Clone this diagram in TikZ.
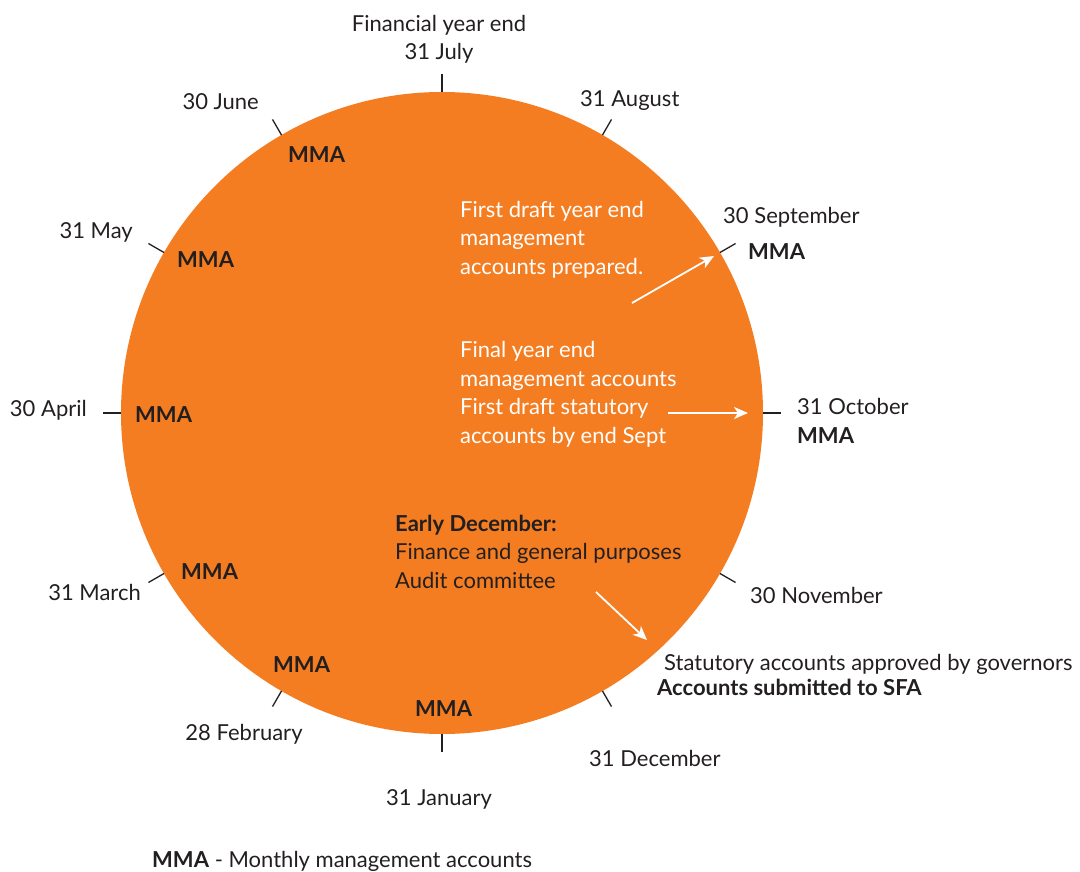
\documentclass[tikz,border=0pt]{standalone}
\usepackage{fontspec}
\setmainfont{Lato}
\usetikzlibrary{positioning,arrows.meta}
\definecolor{yearorange}{RGB}{244,125,34}
\definecolor{inkgrey}{RGB}{35,31,32}

\begin{document}
\begin{tikzpicture}[x=1pt,y=-1pt,
  every node/.style={inner sep=0pt,text=inkgrey,
    font=\fontsize{22}{28.5}\selectfont},
  mma/.style={font=\fontsize{22}{28.5}\selectfont\bfseries},
  whitenote/.style={text=white,align=left,anchor=base west},
  darknote/.style={align=left,anchor=base west},
  tick/.style={inkgrey,line width=1.3pt},
  flow/.style={white,line width=1.8pt,->,>={Stealth[length=14pt,width=12pt,inset=4pt]}}]
  \useasboundingbox (0,0) rectangle (1080,872);
  \coordinate (C) at (442,413);
  \fill[yearorange] (C) circle (321);
  % month ticks
  \foreach \a in {0,30,...,330}
    \draw[tick] (C) ++(\a:321) -- ++(\a:18);

  % months
  \node[align=center,anchor=base] (jul) at (439,60) {Financial year end\\31 July};
  \node[anchor=base west] (aug) at (580,107) {31 August};
  \node[anchor=base west] (sep) at (723,224) {30 September};
  \node[mma,anchor=base west] (sepm) at (748,259) {MMA};
  \node[anchor=base west] (oct) at (797,414) {31 October};
  \node[mma,anchor=base west] (octm) at (797,443) {MMA};
  \node[anchor=base west] (nov) at (750,603) {30 November};
  \node[anchor=base west] (dec) at (589,766) {31 December};
  \node[anchor=base] (jan) at (439,805) {31 January};
  \node[anchor=base] (feb) at (244,740) {28 February};
  \node[anchor=base east] (mar) at (141,600) {31 March};
  \node[anchor=base east] (apr) at (87,416) {30 April};
  \node[anchor=base east] (may) at (133,238) {31 May};
  \node[anchor=base east] (jun) at (259,110) {30 June};

  % monthly management accounts
  \node[mma,anchor=base west] (junm) at (288,163) {MMA};
  \node[mma,anchor=base west] (maym) at (177,267) {MMA};
  \node[mma,anchor=base west] (aprm) at (135,422) {MMA};
  \node[mma,anchor=base west] (marm) at (181,579) {MMA};
  \node[mma,anchor=base west] (febm) at (273,672) {MMA};
  \node[mma,anchor=base west] (janm) at (415,716) {MMA};

  % notes (base = last line)
  \node[whitenote] (draft) at (460,274)
    {First draft year end\\management\\accounts prepared.};
  \node[whitenote] (final) at (460,443)
    {Final year end\\management accounts\\First draft statutory\\accounts by end Sept};
  \node[darknote] (board) at (395,588)
    {\textbf{Early December:}\\Finance and general purposes\\Audit committee};
  \node[darknote] (approved) at (664,670)
    {Statutory accounts approved by governors};
  \node[mma,anchor=base west] (sfa) at (657,695) {Accounts submitted to SFA};

  \coordinate (d1) at (632,303);
  \coordinate (d2) at (714,256);
  \coordinate (f1) at (668,413);
  \coordinate (f2) at (748,413);
  \coordinate (b1) at (596,592);
  \coordinate (b2) at (647,640);
  \draw[flow] (d1) -- (d2);
  \draw[flow] (f1) -- (f2);
  \draw[flow] (b1) -- (b2);

  \node[anchor=base west] (key) at (152,867) {\textbf{MMA} - Monthly management accounts};
\end{tikzpicture}
\end{document}
